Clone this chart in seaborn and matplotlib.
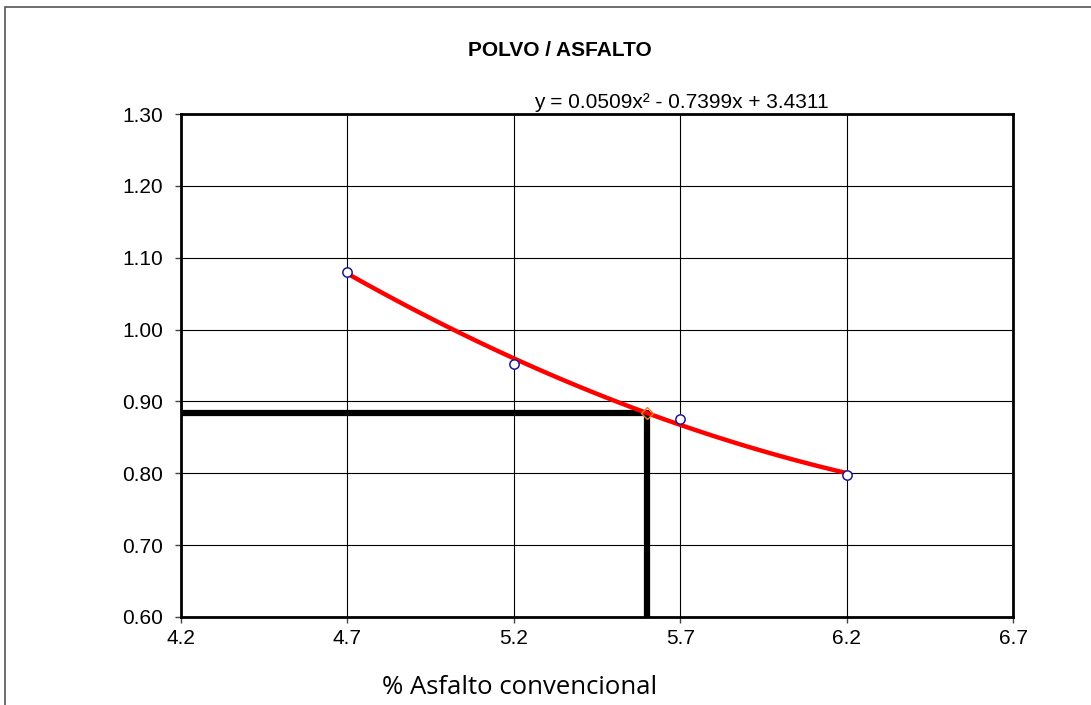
import numpy as np
import pandas as pd
import matplotlib
matplotlib.use("Agg")
import matplotlib.pyplot as plt
from matplotlib.patches import Rectangle
import seaborn as sns

# Data
asfalto = [4.7, 5.2, 5.7, 6.2]
polvo_asfalto = [1.080, 0.952, 0.875, 0.798]

# Trendline coefficients as shown on the chart
coef = [0.0509, -0.7399, 3.4311]
x_opt = 5.6
y_opt = 0.884

x_ticks = [4.2, 4.7, 5.2, 5.7, 6.2, 6.7]
y_ticks = [0.60, 0.70, 0.80, 0.90, 1.00, 1.10, 1.20, 1.30]

sns.set_theme(style="white")
plt.rcParams['font.family'] = ['Liberation Sans', 'DejaVu Sans']
plt.rcParams['text.color'] = 'black'

fig = plt.figure(figsize=(10.91, 7.05), dpi=100)
ax = fig.add_axes([181/1091, 1 - 617/705, (1013 - 181)/1091, (617 - 114)/705])

# chart frame (cropped on right/bottom like the original)
fig.patches.append(Rectangle((5/1091, -0.1), 1.2, 1 - 7/705 + 0.1, transform=fig.transFigure,
                             fill=False, edgecolor='#555555', linewidth=1.2))

# trendline curve
xs = np.linspace(asfalto[0], asfalto[-1], 100)
trend = pd.DataFrame({'x': xs, 'y': np.polyval(coef, xs)})

# reading lines for the optimum
sns.lineplot(x=[x_opt, x_opt], y=[0.60, y_opt], color='black', linewidth=4.5,
             estimator=None, sort=False, ax=ax, zorder=3)
sns.lineplot(x=[4.2, x_opt], y=[y_opt, y_opt], color='black', linewidth=4.5,
             estimator=None, sort=False, ax=ax, zorder=3)

sns.lineplot(data=trend, x='x', y='y', color='red', linewidth=3.2, ax=ax, zorder=4)
ax.plot([x_opt], [y_opt], marker='D', markersize=6, markerfacecolor='none',
        markeredgecolor='#f08020', linestyle='none', zorder=5)
sns.scatterplot(x=asfalto, y=polvo_asfalto, marker='o', s=45, facecolor='white',
                edgecolor='#1a1a8c', linewidth=1.1, ax=ax, zorder=6)

ax.set_xlim(4.2, 6.7)
ax.set_ylim(0.60, 1.30)
ax.set_xticks(x_ticks)
ax.set_yticks(y_ticks)
ax.set_xticklabels([f"{v:.1f}" for v in x_ticks], fontsize=15)
ax.set_yticklabels([f"{v:.2f}" for v in y_ticks], fontsize=15)
ax.grid(True, color='black', linewidth=0.8)
ax.set_axisbelow(True)
for s in ax.spines.values():
    s.set_visible(True)
    s.set_color('black')
    s.set_linewidth(2)
ax.tick_params(axis='both', direction='out', length=4, width=1, color='#444444',
               labelcolor='black', bottom=True, left=True)
ax.tick_params(axis='y', pad=9)
ax.tick_params(axis='x', pad=5)
ax.set_xlabel('')
ax.set_ylabel('')

fig.text(560/1091, 1 - 50/705, 'POLVO / ASFALTO', ha='center', va='center',
         fontsize=15, fontweight='bold')
fig.text(681/1091, 1 - 102/705, 'y = 0.0509x² - 0.7399x + 3.4311', ha='center', va='center',
         fontsize=15)
fig.text(520/1091, 1 - 687/705, '% Asfalto convencional', ha='center', va='center',
         fontsize=18.5, family=['Open Sans', 'DejaVu Sans'])

fig.savefig('out.png', dpi=100)
